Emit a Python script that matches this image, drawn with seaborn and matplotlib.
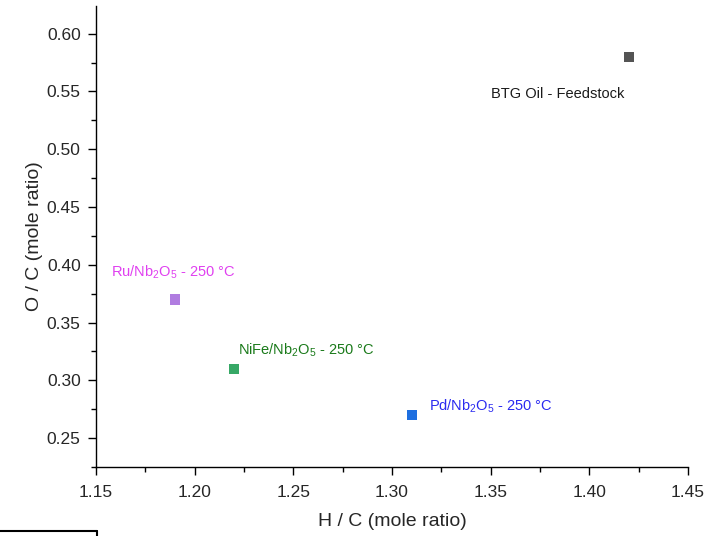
import matplotlib
matplotlib.use("Agg")
import matplotlib.pyplot as plt
import seaborn as sns
import pandas as pd
from matplotlib.lines import Line2D
from matplotlib.ticker import MultipleLocator, FormatStrFormatter

samples = ["BTG Oil - Feedstock", "Ru/Nb2O5", "NiFe/Nb2O5", "Pd/Nb2O5"]
h_c = [1.42, 1.19, 1.22, 1.31]
o_c = [0.58, 0.37, 0.31, 0.27]
marker_colors = ["#545454", "#b07ce0", "#37a866", "#1e6fe0"]
labels = ["BTG Oil - Feedstock",
          r"Ru/Nb$_2$O$_5$ - 250 °C",
          r"NiFe/Nb$_2$O$_5$ - 250 °C",
          r"Pd/Nb$_2$O$_5$ - 250 °C"]
label_colors = ["#1a1a1a", "#e040f0", "#1a7a1a", "#2a2af0"]
label_pos = [(1.3502, 0.5445), (1.1575, 0.3894), (1.2218, 0.3227), (1.3188, 0.2742)]

df = pd.DataFrame({"sample": samples, "hc": h_c, "oc": o_c})

sns.set_style("white")
plt.rcParams["font.family"] = ["Liberation Sans", "DejaVu Sans"]
plt.rcParams["mathtext.fontset"] = "custom"
plt.rcParams["mathtext.rm"] = "Liberation Sans"
plt.rcParams["mathtext.it"] = "Liberation Sans"

fig = plt.figure(figsize=(7.19, 5.36), dpi=100)
ax = fig.add_axes([96/719, 1-467/536, (688-96)/719, (467-6)/536])

sns.scatterplot(data=df, x="hc", y="oc", hue="sample", palette=marker_colors,
                marker="s", s=55, edgecolor="none", legend=False, ax=ax)

for lab, col, (lx, ly) in zip(labels, label_colors, label_pos):
    ax.text(lx, ly, lab, color=col, fontsize=10.5, ha="left", va="baseline")

ax.set_xlim(1.15, 1.45)
ax.set_ylim(0.225, 0.624)
ax.xaxis.set_major_locator(MultipleLocator(0.05))
ax.xaxis.set_minor_locator(MultipleLocator(0.025))
ax.yaxis.set_major_locator(MultipleLocator(0.05))
ax.yaxis.set_minor_locator(MultipleLocator(0.025))
ax.xaxis.set_major_formatter(FormatStrFormatter("%.2f"))
ax.yaxis.set_major_formatter(FormatStrFormatter("%.2f"))
ax.tick_params(which="major", direction="out", length=6, width=1, labelsize=12.5,
               bottom=True, left=True, color="black", pad=5)
ax.tick_params(axis="x", which="major", pad=7)
ax.tick_params(which="minor", direction="out", length=3.5, width=1,
               bottom=True, left=True, color="black")
for s in ["top", "right"]:
    ax.spines[s].set_visible(False)
for s in ["left", "bottom"]:
    ax.spines[s].set_color("black")
    ax.spines[s].set_linewidth(1)

ax.set_xlabel("H / C (mole ratio)", fontsize=14, labelpad=9)
ax.set_ylabel("O / C (mole ratio)", fontsize=14, labelpad=3)

fig.add_artist(Line2D([0, 97/719], [1-531/536, 1-531/536], color="black", lw=1.5))
fig.add_artist(Line2D([97/719, 97/719], [1-531/536, 0], color="black", lw=1.5))

fig.savefig("out.png", dpi=100)
